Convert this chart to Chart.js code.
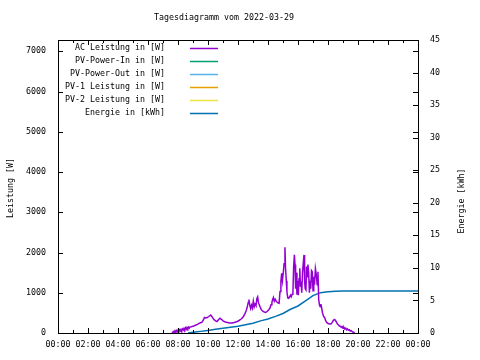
<!DOCTYPE html>
<html>
<head>
<meta charset="utf-8">
<title>Tagesdiagramm</title>
<script src="https://cdn.jsdelivr.net/npm/chart.js@4/dist/chart.umd.min.js"></script>
<style>
    body { margin: 0; background: #fff; }
    #wrap { width: 480px; height: 360px; position: relative; }
</style>
</head>
<body>
<div id="wrap"><canvas id="tagChart"></canvas></div>
<script>
// Daten (Uhrzeit in Stunden)
const titel = 'Tagesdiagramm vom 2022-03-29';
const stundenTicks = [0, 2, 4, 6, 8, 10, 12, 14, 16, 18, 20, 22, 24];
const leistungTicks = [0, 1000, 2000, 3000, 4000, 5000, 6000, 7000];
const energieTicks = [0, 5, 10, 15, 20, 25, 30, 35, 40, 45];

const acZeit = [7.60, 7.70, 7.75, 7.80, 7.85, 7.90, 7.95, 8.00, 8.05, 8.10, 8.15, 8.20, 8.25, 8.30, 8.35, 8.40, 8.45, 8.50, 8.55, 8.60,
    8.65, 8.70, 8.75, 8.80, 8.90, 9.00, 9.10, 9.20, 9.30, 9.40, 9.50, 9.60, 9.70, 9.76, 9.85, 9.95, 10.05, 10.18, 10.28, 10.38,
    10.50, 10.60, 10.70, 10.80, 10.90, 11.00, 11.15, 11.30, 11.45, 11.60, 11.75, 11.90, 12.05, 12.15, 12.25, 12.35, 12.45, 12.55, 12.62, 12.68,
    12.73, 12.78, 12.84, 12.90, 12.96, 13.02, 13.08, 13.14, 13.20, 13.26, 13.31, 13.36, 13.42, 13.47, 13.55, 13.65, 13.75, 13.85, 13.95, 14.05,
    14.13, 14.20, 14.26, 14.31, 14.36, 14.42, 14.48, 14.55, 14.60, 14.68, 14.74, 14.80, 14.86, 14.91, 14.96, 15.02, 15.07, 15.13, 15.17, 15.22,
    15.26, 15.32, 15.38, 15.44, 15.50, 15.55, 15.61, 15.66, 15.71, 15.76, 15.80, 15.84, 15.88, 15.93, 15.98, 16.02, 16.07, 16.12, 16.16, 16.20,
    16.25, 16.30, 16.35, 16.40, 16.44, 16.48, 16.53, 16.57, 16.62, 16.66, 16.71, 16.76, 16.80, 16.85, 16.90, 16.95, 17.00, 17.05, 17.10, 17.16,
    17.22, 17.28, 17.33, 17.38, 17.43, 17.48, 17.53, 17.58, 17.63, 17.70, 17.78, 17.85, 17.92, 18.00, 18.10, 18.20, 18.28, 18.35, 18.42, 18.48,
    18.55, 18.62, 18.70, 18.76, 18.82, 18.88, 18.94, 19.00, 19.06, 19.12, 19.18, 19.24, 19.30, 19.36, 19.42, 19.48, 19.55, 19.62, 19.70, 19.78];
const acLeistung = [0, 40, 10, 55, 20, 60, 30, 70, 40, 80, 50, 90, 60, 100, 75, 115, 85, 130, 95, 140,
    110, 145, 120, 150, 155, 170, 180, 200, 215, 240, 255, 270, 330, 385, 375, 385, 410, 445, 400, 340,
    300, 285, 330, 365, 340, 300, 275, 262, 250, 250, 260, 280, 305, 330, 360, 405, 470, 560, 650, 760,
    830, 700, 610, 690, 620, 790, 650, 720, 680, 860, 900, 760, 700, 650, 580, 540, 520, 510, 540, 580,
    620, 700, 760, 830, 880, 790, 840, 790, 770, 745, 740, 1030, 1280, 1480, 1300, 1500, 1720, 2130, 1600, 1300,
    1030, 870, 860, 900, 940, 900, 960, 1000, 1650, 1940, 1700, 1100, 1500, 950, 1300, 940, 1350, 1610, 1150, 1280,
    1000, 1500, 1730, 1940, 1300, 1100, 1070, 1650, 1400, 1700, 1500, 1000, 1300, 1100, 1550, 1520, 1050, 1400, 1200, 1600,
    1450, 1200, 1520, 830, 700, 650, 720, 615, 500, 420, 380, 300, 260, 235, 225, 225, 265, 310, 335, 320,
    280, 230, 200, 175, 170, 140, 160, 120, 140, 100, 120, 80, 100, 70, 80, 50, 60, 30, 20, 5];

const energieZeit = [8.67, 9.0, 9.5, 10.0, 10.5, 11.0, 11.5, 12.0, 12.5, 13.0, 13.5, 14.0, 14.5, 15.0, 15.5, 16.0,
    16.5, 17.0, 17.5, 18.0, 18.5, 19.0, 20.0, 24.0];
const energieKWh = [0, 0.10, 0.25, 0.40, 0.56, 0.72, 0.87, 1.03, 1.25, 1.49, 1.86, 2.15, 2.55, 3.00, 3.65, 4.15,
    4.95, 5.75, 6.20, 6.32, 6.43, 6.45, 6.45, 6.45];

// Serien ohne sichtbare Werte (nur Legende)
const pvPowerIn = [];
const pvPowerOut = [];
const pv1Leistung = [];
const pv2Leistung = [];

const schrift = 'DejaVu Sans Mono';

function punkte(zeit, werte) {
    return zeit.map((t, i) => ({ x: t, y: werte[i] }));
}

function uhrzeit(v) {
    const h = Math.round(v) % 24;
    return (h < 10 ? '0' : '') + h + ':00';
}

// Rahmen, Ticks, Titel und Legende im gnuplot-Stil
const gnuplotStil = {
    id: 'gnuplotStil',
    afterDraw(chart) {
        const ctx = chart.ctx;
        const a = chart.chartArea;
        const sx = chart.scales.x, sy = chart.scales.y, sy2 = chart.scales.y2;
        ctx.save();
        ctx.strokeStyle = '#000';
        ctx.lineWidth = 1;
        ctx.strokeRect(Math.round(a.left) + 0.5, Math.round(a.top) + 0.5,
            Math.round(a.right - a.left), Math.round(a.bottom - a.top));

        ctx.beginPath();
        // x-Ticks unten und oben (jede Stunde)
        for (let h = 1; h < 24; h++) {
            const px = Math.round(sx.getPixelForValue(h)) + 0.5;
            const len = h % 2 === 0 ? 5 : 3;
            ctx.moveTo(px, a.bottom); ctx.lineTo(px, a.bottom - len);
            ctx.moveTo(px, a.top); ctx.lineTo(px, a.top + len);
        }
        // linke Achse, gespiegelt rechts
        sy.ticks.forEach(t => {
            const py = Math.round(sy.getPixelForValue(t.value)) + 0.5;
            ctx.moveTo(a.left, py); ctx.lineTo(a.left + 5, py);
            ctx.moveTo(a.right, py); ctx.lineTo(a.right - 5, py);
        });
        // rechte Achse (Energie)
        sy2.ticks.forEach(t => {
            const py = Math.round(sy2.getPixelForValue(t.value)) + 0.5;
            ctx.moveTo(a.right, py); ctx.lineTo(a.right - 5, py);
        });
        ctx.stroke();

        ctx.fillStyle = '#000';
        ctx.font = '8.3px "' + schrift + '"';
        ctx.textBaseline = 'middle';
        ctx.textAlign = 'center';
        ctx.fillText(titel, 224, 18);

        // Achsentitel
        ctx.save();
        ctx.translate(11, 188);
        ctx.rotate(-Math.PI / 2);
        ctx.fillText(sy.options.title.text, 0, 0);
        ctx.restore();
        ctx.save();
        ctx.translate(462, 201);
        ctx.rotate(-Math.PI / 2);
        ctx.fillText(sy2.options.title.text, 0, 0);
        ctx.restore();

        // Legende: Text rechtsbuendig, Linie dahinter
        ctx.textAlign = 'right';
        chart.data.datasets.forEach((ds, i) => {
            const y = 47.5 + i * 13;
            ctx.fillStyle = '#000';
            ctx.fillText(ds.label, 165, y);
            ctx.strokeStyle = ds.borderColor;
            ctx.lineWidth = 1.5;
            ctx.beginPath();
            ctx.moveTo(190, Math.round(y) + 0.5);
            ctx.lineTo(218, Math.round(y) + 0.5);
            ctx.stroke();
        });
        ctx.restore();
    }
};

const ctx = document.getElementById('tagChart').getContext('2d');
const tagChart = new Chart(ctx, {
    type: 'line',
    data: {
        datasets: [
            { label: 'AC Leistung in [W]', data: punkte(acZeit, acLeistung), borderColor: '#9400d3', yAxisID: 'y' },
            { label: 'PV-Power-In in [W]', data: pvPowerIn, borderColor: '#009e73', yAxisID: 'y' },
            { label: 'PV-Power-Out in [W]', data: pvPowerOut, borderColor: '#56b4e9', yAxisID: 'y' },
            { label: 'PV-1 Leistung in [W]', data: pv1Leistung, borderColor: '#e69f00', yAxisID: 'y' },
            { label: 'PV-2 Leistung in [W]', data: pv2Leistung, borderColor: '#f0e442', yAxisID: 'y' },
            { label: 'Energie in [kWh]', data: punkte(energieZeit, energieKWh), borderColor: '#0072b2', yAxisID: 'y2' }
        ]
    },
    options: {
        responsive: true,
        maintainAspectRatio: false,
        animation: false,
        devicePixelRatio: 1,
        layout: { padding: { top: 40, left: 0, right: 0, bottom: 0 } },
        elements: {
            point: { radius: 0 },
            line: { borderWidth: 1.5, tension: 0 }
        },
        plugins: {
            legend: { display: false },
            title: { display: false },
            tooltip: { enabled: false }
        },
        scales: {
            x: {
                type: 'linear',
                min: 0,
                max: 24,
                afterBuildTicks: s => { s.ticks = stundenTicks.map(v => ({ value: v })); },
                afterFit: s => { s.height = 27; },
                grid: { display: false, drawTicks: false },
                border: { display: false },
                ticks: {
                    color: '#000',
                    padding: 7,
                    maxRotation: 0,
                    autoSkip: false,
                    font: { family: schrift, size: 8.3 },
                    callback: v => uhrzeit(v)
                }
            },
            y: {
                position: 'left',
                min: 0,
                max: 7280,
                title: { display: false, text: 'Leistung [W]' },
                afterBuildTicks: s => { s.ticks = leistungTicks.map(v => ({ value: v })); },
                afterFit: s => { s.width = 58; },
                grid: { display: false, drawTicks: false },
                border: { display: false },
                ticks: {
                    color: '#000',
                    padding: 12,
                    font: { family: schrift, size: 8.3 },
                    callback: v => String(v)
                }
            },
            y2: {
                position: 'right',
                min: 0,
                max: 45,
                title: { display: false, text: 'Energie [kWh]' },
                afterBuildTicks: s => { s.ticks = energieTicks.map(v => ({ value: v })); },
                afterFit: s => { s.width = 62; },
                grid: { display: false, drawTicks: false },
                border: { display: false },
                ticks: {
                    color: '#000',
                    padding: 12,
                    font: { family: schrift, size: 8.3 },
                    callback: v => String(v)
                }
            }
        }
    },
    plugins: [gnuplotStil]
});
</script>
</body>
</html>
